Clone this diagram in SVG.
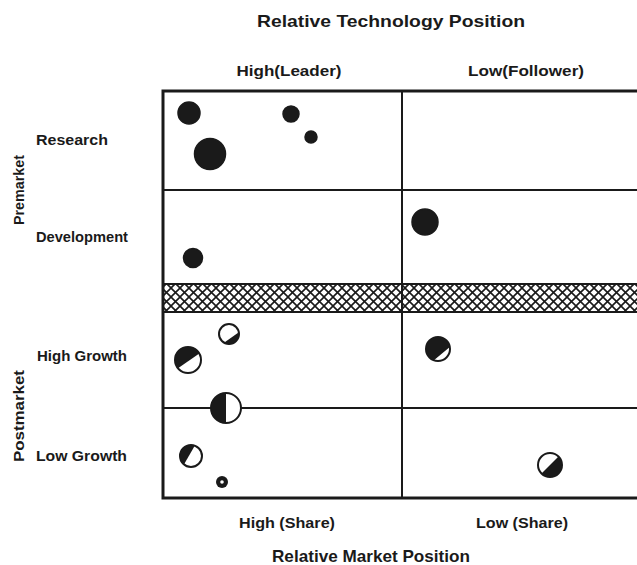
<svg xmlns="http://www.w3.org/2000/svg" width="637" height="565" viewBox="0 0 637 565">
<style>
  text { font-family: "Liberation Sans", "DejaVu Sans", sans-serif; font-weight: bold; fill: #1a1a1a; }
  .title { font-size: 16.5px; }
  .lab { font-size: 15px; }
  .grid { stroke: #1a1a1a; fill: none; }
  .dot { fill: #1a1a1a; stroke: #1a1a1a; stroke-width: 1.5; }
  .ring { fill: #fff; stroke: #1a1a1a; stroke-width: 2; }
  .part { fill: #1a1a1a; stroke: none; }
</style>
<defs>
  <pattern id="hatch" patternUnits="userSpaceOnUse" width="9" height="9">
    <rect width="9" height="9" fill="#fff"/>
    <path d="M-1,-1 L10,10 M-1,10 L10,-1" stroke="#1a1a1a" stroke-width="1.6"/>
  </pattern>
</defs>
<rect width="637" height="565" fill="#fff"/>

<g id="labels">
  <text class="title" x="391" y="27" text-anchor="middle" textLength="268" lengthAdjust="spacingAndGlyphs">Relative Technology Position</text>
  <text class="lab" x="289" y="76" text-anchor="middle" textLength="105" lengthAdjust="spacingAndGlyphs">High(Leader)</text>
  <text class="lab" x="526" y="76" text-anchor="middle" textLength="116" lengthAdjust="spacingAndGlyphs">Low(Follower)</text>
  <text class="lab" x="287" y="528" text-anchor="middle" textLength="96" lengthAdjust="spacingAndGlyphs">High (Share)</text>
  <text class="lab" x="522" y="528" text-anchor="middle" textLength="92" lengthAdjust="spacingAndGlyphs">Low (Share)</text>
  <text class="title" x="371" y="562" text-anchor="middle" textLength="198" lengthAdjust="spacingAndGlyphs">Relative Market Position</text>
  <text class="lab" x="36" y="145" textLength="72" lengthAdjust="spacingAndGlyphs">Research</text>
  <text class="lab" x="36" y="242" textLength="92" lengthAdjust="spacingAndGlyphs">Development</text>
  <text class="lab" x="37" y="361" textLength="90" lengthAdjust="spacingAndGlyphs">High Growth</text>
  <text class="lab" x="36" y="461" textLength="91" lengthAdjust="spacingAndGlyphs">Low Growth</text>
  <text class="lab" transform="translate(24,190) rotate(-90)" text-anchor="middle" textLength="70" lengthAdjust="spacingAndGlyphs">Premarket</text>
  <text class="lab" transform="translate(24,416) rotate(-90)" text-anchor="middle" textLength="92" lengthAdjust="spacingAndGlyphs">Postmarket</text>
</g>

<g id="grid">
  <rect x="163" y="284" width="480" height="28" fill="url(#hatch)"/>
  <line class="grid" x1="163" y1="190" x2="640" y2="190" stroke-width="2"/>
  <line class="grid" x1="163" y1="284" x2="640" y2="284" stroke-width="2"/>
  <line class="grid" x1="163" y1="312" x2="640" y2="312" stroke-width="2"/>
  <line class="grid" x1="163" y1="408" x2="640" y2="408" stroke-width="2"/>
  <line class="grid" x1="402" y1="91" x2="402" y2="498" stroke-width="2"/>
  <rect class="grid" x="163" y="91" width="480" height="407" stroke-width="3"/>
</g>

<g id="bubbles">
  <circle class="dot" cx="189" cy="113" r="11"/>
  <circle class="dot" cx="291" cy="114" r="8"/>
  <circle class="dot" cx="311" cy="137" r="6"/>
  <circle class="dot" cx="210" cy="154" r="15.5"/>
  <circle class="dot" cx="193" cy="258" r="9.5"/>
  <circle class="dot" cx="425" cy="222" r="13"/>

  <g id="b-hg1">
    <circle class="ring" cx="229" cy="334" r="10"/>
    <path class="part" d="M238.85,332.26 A10,10 0 0 1 224,342.66 Z"/>
  </g>
  <g id="b-hg2">
    <circle class="ring" cx="188" cy="360" r="13"/>
    <path class="part" d="M178.04,368.36 A13,13 0 1 1 199.26,353.5 Z"/>
  </g>
  <g id="b-mid">
    <circle class="ring" cx="226" cy="408" r="15"/>
    <path class="part" d="M226,393 A15,15 0 0 0 226,423 Z"/>
  </g>
  <g id="b-lg1">
    <circle class="ring" cx="191" cy="456" r="11"/>
    <path class="part" d="M183.93,464.43 A11,11 0 0 1 194.76,445.66 Z"/>
  </g>
  <g id="b-lg2">
    <circle cx="222" cy="482" r="6" fill="#1a1a1a"/>
    <circle cx="222" cy="482" r="1.8" fill="#fff"/>
  </g>
  <g id="b-hg3">
    <circle class="ring" cx="438" cy="349" r="12"/>
    <path class="part" d="M433.9,360.28 A12,12 0 1 1 449.82,346.92 Z"/>
  </g>
  <g id="b-lg3">
    <circle class="ring" cx="550" cy="465" r="12"/>
    <path class="part" d="M558.49,456.51 A12,12 0 0 1 541.51,473.49 Z"/>
  </g>
</g>
</svg>
